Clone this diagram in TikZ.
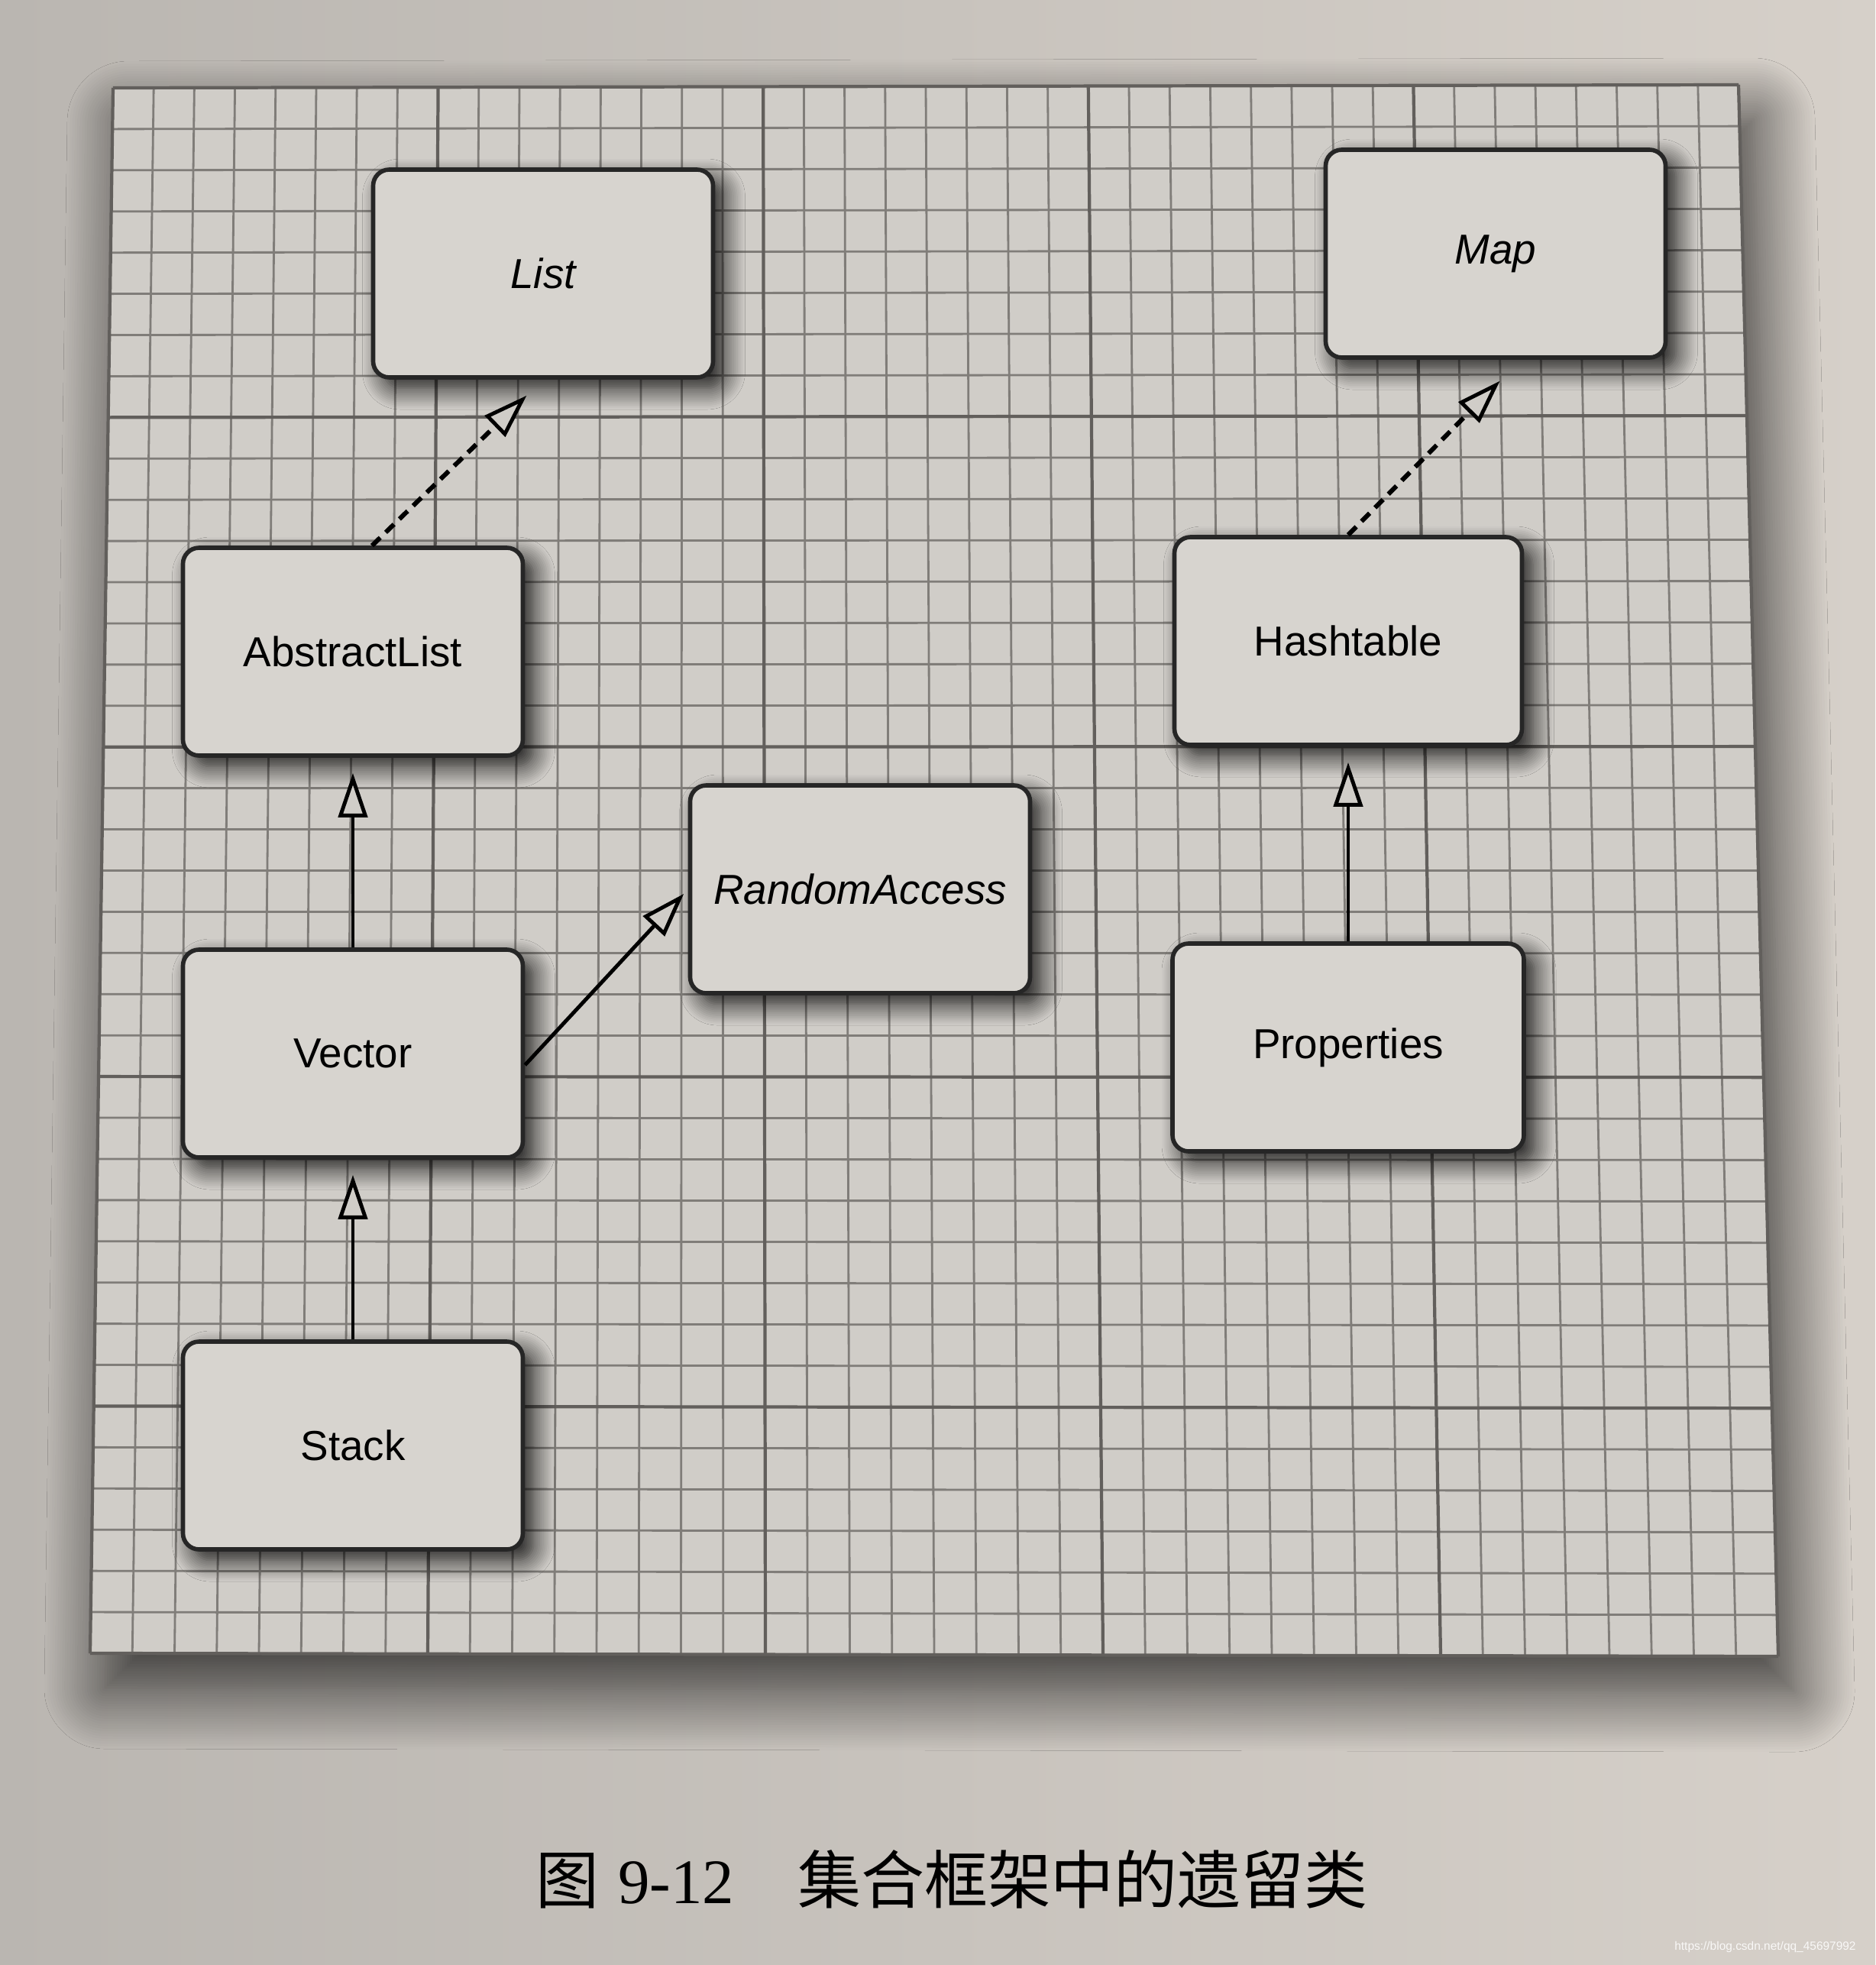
\documentclass[tikz,border=0pt]{standalone}
\usepackage{fontspec}
\setmainfont{Liberation Sans}
\newfontfamily\capfont{Noto Sans CJK SC}
\newfontfamily\numfont{Liberation Serif}
\usetikzlibrary{arrows.meta,shadows.blur}

\definecolor{paperdark}{RGB}{186,182,177}
\definecolor{paperlight}{RGB}{214,208,201}
\definecolor{sheet}{RGB}{208,205,200}
\definecolor{boxfill}{RGB}{215,212,207}
\definecolor{minorline}{RGB}{128,125,121}
\definecolor{majorline}{RGB}{98,95,92}

\tikzset{
  klasa/.style={draw=black!85, line width=1.6pt, rounded corners=6pt, fill=boxfill,
    minimum width=4.45cm, minimum height=2.72cm, inner sep=0pt,
    font=\fontsize{15.6}{18}\selectfont,
    blur shadow={shadow xshift=0.14cm, shadow yshift=-0.14cm, shadow blur radius=0.28cm,
      shadow blur steps=12, shadow opacity=90}},
  sucelje/.style={klasa, font=\fontsize{15.6}{18}\selectfont\itshape},
  nasledjuje/.style={line width=1.4pt, shorten >=0.2cm,
    -{Triangle[length=0.58cm, width=0.38cm, fill=sheet, line width=1.4pt]}},
  implementira/.style={nasledjuje, line width=1.7pt, dash pattern=on 0.15cm off 0.1cm},
  mreza/.style={minorline, line width=0.8pt},
  glavna/.style={majorline, line width=1.2pt}
}

\begin{document}
\begin{tikzpicture}

\fill[left color=paperdark, right color=paperlight] (0,0) rectangle (24.55,-25.72);

\fill[sheet, blur shadow={shadow xshift=0.2cm, shadow yshift=-0.45cm, shadow blur radius=0.8cm,
    shadow blur steps=25, shadow opacity=75}]
  (1.48,-1.15) -- (22.76,-1.11) -- (23.28,-21.68) -- (1.18,-21.64) -- cycle;

\foreach \i in {0,...,40}
  \draw[mreza] ({1.48+\i*0.532},{-1.15+\i*0.001}) -- ({1.18+\i*0.5525},{-21.64-\i*0.001});
\foreach \j in {0,...,38}
  \draw[mreza] ({1.48-\j*0.00789},{-1.15-\j*0.5392}) -- ({22.76+\j*0.01368},{-1.11-\j*0.5413});
\foreach \i in {0,8,...,40}
  \draw[glavna] ({1.48+\i*0.532},{-1.15+\i*0.001}) -- ({1.18+\i*0.5525},{-21.64-\i*0.001});
\foreach \j in {0,8,16,24,32,38}
  \draw[glavna] ({1.48-\j*0.00789},{-1.15-\j*0.5392}) -- ({22.76+\j*0.01368},{-1.11-\j*0.5413});

\node[sucelje] (list) at (7.11,-3.58) {List};
\node[sucelje] (map) at (19.58,-3.32) {Map};
\node[klasa] (alist) at (4.62,-8.53) {AbstractList};
\node[klasa, minimum width=4.55cm] (htable) at (17.65,-8.39) {Hashtable};
\node[sucelje] (raccess) at (11.26,-11.64) {RandomAccess};
\node[klasa] (vector) at (4.62,-13.79) {Vector};
\node[klasa, minimum width=4.6cm] (props) at (17.65,-13.71) {Properties};
\node[klasa] (stack) at (4.62,-18.92) {Stack};

\draw[implementira, shorten >=0.3cm] ([xshift=0.25cm]alist.north) -- (list.south);
\draw[implementira, shorten >=0.39cm] (htable.north) -- ([xshift=0.33cm]map.south);
\draw[nasledjuje] (vector.north) -- (alist.south);
\draw[nasledjuje] (stack.north) -- (vector.south);
\draw[nasledjuje] (props.north) -- (htable.south);
\draw[nasledjuje, shorten >=0.08cm] ([yshift=-0.15cm]vector.east) -- (raccess.west);

\node (naslov) at (12.46,-24.6) {\fontsize{23.6}{27}\selectfont\capfont 图\hspace{0.3em}\numfont 9-12\hspace{1em}\capfont 集合框架中的遗留类};
\node[anchor=east, text=white!85!paperlight, font=\fontsize{4.4}{5}\selectfont] (izvor) at (24.42,-25.48) {https://blog.csdn.net/qq\_45697992};
\end{tikzpicture}
\end{document}
